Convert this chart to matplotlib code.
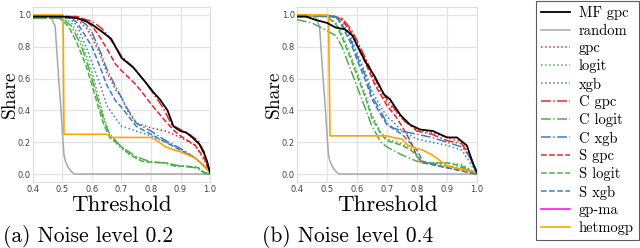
import matplotlib
matplotlib.use("Agg")
import matplotlib.pyplot as plt
from matplotlib.lines import Line2D

# ---------------- data ----------------
captions = ["(a) Noise level 0.2", "(b) Noise level 0.4"]
series_names = ["MF gpc", "random", "gpc", "logit", "xgb", "C gpc", "C logit",
                "C xgb", "S gpc", "S logit", "S xgb", "gp-ma", "hetmogp"]

# Panel (a): noise 0.2  -> (thresholds, share)
a_mf_gpc = ([0.40, 0.50, 0.55, 0.58, 0.60, 0.63, 0.665, 0.70, 0.74, 0.78, 0.81, 0.83, 0.856, 0.876, 0.90, 0.92, 0.94, 0.963, 0.98, 0.99, 1.00],
            [0.99, 0.99, 0.98, 0.96, 0.94, 0.90, 0.85, 0.73, 0.67, 0.58, 0.51, 0.47, 0.40, 0.30, 0.27, 0.26, 0.23, 0.19, 0.13, 0.08, 0.01])
a_random = ([0.40, 0.46, 0.475, 0.487, 0.495, 0.50, 0.505, 0.51, 0.52, 0.53, 0.54, 1.00],
            [0.99, 0.99, 0.93, 0.60, 0.40, 0.25, 0.12, 0.08, 0.04, 0.015, 0.00, 0.00])
a_gpc = ([0.40, 0.52, 0.55, 0.58, 0.60, 0.63, 0.65, 0.68, 0.70, 0.72, 0.75, 0.80, 0.85, 0.90, 0.95, 0.98, 1.00],
         [0.99, 0.99, 0.97, 0.92, 0.86, 0.74, 0.64, 0.53, 0.48, 0.40, 0.32, 0.29, 0.27, 0.23, 0.18, 0.09, 0.01])
a_logit = ([0.40, 0.50, 0.53, 0.56, 0.58, 0.60, 0.62, 0.64, 0.66, 0.70, 0.73, 0.77, 0.80, 0.85, 0.88, 0.92, 0.96, 0.98, 1.00],
           [0.99, 0.99, 0.95, 0.85, 0.75, 0.64, 0.50, 0.36, 0.24, 0.16, 0.12, 0.08, 0.075, 0.07, 0.05, 0.05, 0.04, 0.00, 0.00])
a_xgb = ([0.40, 0.52, 0.55, 0.58, 0.60, 0.63, 0.65, 0.68, 0.70, 0.75, 0.80, 0.85, 0.90, 0.95, 0.98, 1.00],
         [0.99, 0.99, 0.93, 0.80, 0.70, 0.55, 0.43, 0.35, 0.30, 0.27, 0.24, 0.20, 0.16, 0.10, 0.05, 0.01])
a_c_gpc = ([0.40, 0.55, 0.58, 0.60, 0.63, 0.65, 0.68, 0.70, 0.74, 0.78, 0.81, 0.84, 0.87, 0.90, 0.93, 0.96, 0.98, 1.00],
           [0.99, 0.99, 0.97, 0.96, 0.92, 0.88, 0.80, 0.74, 0.67, 0.58, 0.50, 0.42, 0.31, 0.28, 0.25, 0.21, 0.14, 0.01])
a_c_logit = ([0.40, 0.50, 0.53, 0.56, 0.58, 0.60, 0.62, 0.64, 0.66, 0.68, 0.70, 0.75, 0.80, 0.85, 0.90, 0.95, 0.98, 1.00],
             [0.98, 0.98, 0.93, 0.82, 0.72, 0.60, 0.47, 0.34, 0.25, 0.21, 0.17, 0.11, 0.075, 0.07, 0.05, 0.04, 0.01, 0.00])
a_c_xgb = ([0.40, 0.55, 0.58, 0.60, 0.63, 0.65, 0.68, 0.70, 0.72, 0.75, 0.80, 0.85, 0.90, 0.95, 0.98, 1.00],
           [0.99, 0.98, 0.94, 0.89, 0.76, 0.66, 0.55, 0.48, 0.41, 0.32, 0.27, 0.21, 0.16, 0.10, 0.05, 0.01])
a_s_gpc = ([0.40, 0.55, 0.58, 0.60, 0.62, 0.65, 0.68, 0.70, 0.75, 0.78, 0.80, 0.85, 0.88, 0.90, 0.95, 0.98, 1.00],
           [0.99, 0.99, 0.96, 0.93, 0.88, 0.79, 0.69, 0.65, 0.56, 0.49, 0.44, 0.33, 0.27, 0.24, 0.18, 0.10, 0.01])
a_s_logit = ([0.40, 0.49, 0.52, 0.55, 0.58, 0.60, 0.62, 0.64, 0.66, 0.70, 0.73, 0.77, 0.80, 0.85, 0.88, 0.92, 0.96, 0.98, 1.00],
             [0.98, 0.98, 0.93, 0.82, 0.68, 0.56, 0.43, 0.31, 0.23, 0.17, 0.12, 0.08, 0.075, 0.07, 0.05, 0.05, 0.04, 0.01, 0.00])
a_s_xgb = ([0.40, 0.53, 0.55, 0.58, 0.60, 0.63, 0.65, 0.68, 0.70, 0.75, 0.80, 0.85, 0.90, 0.95, 0.98, 1.00],
           [0.99, 0.98, 0.95, 0.86, 0.80, 0.66, 0.56, 0.46, 0.42, 0.30, 0.25, 0.20, 0.15, 0.10, 0.05, 0.01])
a_gp_ma = ([], [])
a_hetmogp = ([0.40, 0.502, 0.505, 0.65, 0.67, 0.80, 0.82, 0.85, 0.88, 0.90, 0.95, 0.97, 1.00],
             [1.00, 1.00, 0.25, 0.25, 0.23, 0.23, 0.21, 0.17, 0.15, 0.14, 0.10, 0.07, 0.01])

# Panel (b): noise 0.4
b_mf_gpc = ([0.40, 0.43, 0.46, 0.50, 0.53, 0.56, 0.585, 0.60, 0.63, 0.66, 0.69, 0.71, 0.745, 0.777, 0.81, 0.854, 0.90, 0.933, 0.966, 0.986, 1.00],
            [0.99, 0.99, 0.97, 0.95, 0.92, 0.91, 0.87, 0.81, 0.70, 0.61, 0.50, 0.47, 0.37, 0.31, 0.28, 0.27, 0.23, 0.23, 0.18, 0.07, 0.01])
b_random = ([0.40, 0.46, 0.475, 0.487, 0.495, 0.50, 0.505, 0.51, 0.52, 0.53, 0.54, 1.00],
            [0.99, 0.99, 0.93, 0.60, 0.40, 0.25, 0.12, 0.08, 0.04, 0.015, 0.00, 0.00])
b_gpc = ([0.40, 0.52, 0.55, 0.58, 0.60, 0.63, 0.66, 0.70, 0.73, 0.76, 0.80, 0.85, 0.90, 0.95, 0.98, 1.00],
         [1.00, 0.99, 0.97, 0.90, 0.83, 0.71, 0.58, 0.45, 0.39, 0.33, 0.28, 0.26, 0.23, 0.20, 0.10, 0.00])
b_logit = ([0.40, 0.50, 0.53, 0.55, 0.58, 0.60, 0.63, 0.65, 0.68, 0.70, 0.75, 0.78, 0.80, 0.82, 0.90, 0.95, 1.00],
           [0.99, 0.99, 0.95, 0.88, 0.74, 0.64, 0.49, 0.37, 0.26, 0.22, 0.19, 0.16, 0.12, 0.07, 0.07, 0.06, 0.00])
b_xgb = ([0.40, 0.53, 0.55, 0.58, 0.60, 0.63, 0.65, 0.68, 0.70, 0.72, 0.75, 0.80, 0.85, 0.90, 0.95, 1.00],
         [1.00, 0.99, 0.95, 0.86, 0.76, 0.63, 0.52, 0.42, 0.36, 0.33, 0.27, 0.22, 0.20, 0.18, 0.15, 0.00])
b_c_gpc = ([0.40, 0.52, 0.55, 0.58, 0.60, 0.63, 0.66, 0.70, 0.73, 0.76, 0.80, 0.85, 0.90, 0.95, 0.98, 1.00],
           [1.00, 0.99, 0.98, 0.91, 0.84, 0.72, 0.60, 0.47, 0.40, 0.33, 0.27, 0.25, 0.21, 0.19, 0.09, 0.00])
b_c_logit = ([0.40, 0.45, 0.48, 0.50, 0.53, 0.55, 0.58, 0.60, 0.63, 0.65, 0.68, 0.70, 0.75, 0.80, 0.85, 0.90, 0.95, 1.00],
             [0.97, 0.95, 0.92, 0.90, 0.87, 0.80, 0.65, 0.55, 0.40, 0.30, 0.20, 0.17, 0.12, 0.08, 0.07, 0.05, 0.04, 0.00])
b_c_xgb = ([0.40, 0.53, 0.55, 0.58, 0.60, 0.63, 0.65, 0.68, 0.70, 0.72, 0.75, 0.80, 0.85, 0.90, 0.95, 0.98, 1.00],
           [1.00, 0.99, 0.94, 0.84, 0.74, 0.61, 0.49, 0.39, 0.32, 0.29, 0.27, 0.25, 0.23, 0.20, 0.17, 0.10, 0.00])
b_s_gpc = ([0.40, 0.52, 0.55, 0.58, 0.60, 0.63, 0.66, 0.70, 0.73, 0.75, 0.78, 0.80, 0.82, 0.85, 0.90, 0.95, 1.00],
           [1.00, 0.99, 0.97, 0.89, 0.81, 0.69, 0.56, 0.43, 0.36, 0.30, 0.20, 0.11, 0.07, 0.06, 0.04, 0.02, 0.00])
b_s_logit = ([0.40, 0.50, 0.53, 0.55, 0.58, 0.60, 0.63, 0.65, 0.68, 0.70, 0.75, 0.78, 0.80, 0.82, 0.90, 0.95, 1.00],
             [0.99, 0.99, 0.94, 0.86, 0.72, 0.62, 0.47, 0.35, 0.25, 0.21, 0.18, 0.15, 0.11, 0.07, 0.07, 0.05, 0.00])
b_s_xgb = ([0.40, 0.53, 0.55, 0.58, 0.60, 0.63, 0.65, 0.68, 0.70, 0.75, 0.78, 0.80, 0.82, 0.85, 0.90, 1.00],
           [1.00, 0.99, 0.93, 0.82, 0.72, 0.58, 0.47, 0.37, 0.31, 0.25, 0.19, 0.15, 0.08, 0.06, 0.04, 0.00])
b_gp_ma = ([], [])
b_hetmogp = ([0.40, 0.505, 0.51, 0.70, 0.72, 0.75, 0.77, 0.80, 0.82, 0.85, 0.88, 0.90, 0.95, 1.00],
             [1.00, 1.00, 0.24, 0.24, 0.23, 0.22, 0.18, 0.16, 0.15, 0.12, 0.08, 0.05, 0.03, 0.01])

panel_a = [a_mf_gpc, a_random, a_gpc, a_logit, a_xgb, a_c_gpc, a_c_logit,
           a_c_xgb, a_s_gpc, a_s_logit, a_s_xgb, a_gp_ma, a_hetmogp]
panel_b = [b_mf_gpc, b_random, b_gpc, b_logit, b_xgb, b_c_gpc, b_c_logit,
           b_c_xgb, b_s_gpc, b_s_logit, b_s_xgb, b_gp_ma, b_hetmogp]

# ---------------- styles ----------------
RED, GREEN, BLUE = "#e8262a", "#4daf4a", "#3a7fc0"
colors = ["black", "#a8a8a8", RED, GREEN, BLUE, RED, GREEN, BLUE, RED, GREEN, BLUE, "magenta", "orange"]
styles = ["-", "-", ":", ":", ":", "-.", "-.", "-.", "--", "--", "--", "-", "-"]
widths = [1.3, 1.1, 1.1, 1.1, 1.1, 1.1, 1.1, 1.1, 1.1, 1.1, 1.1, 1.1, 1.2]
zorders = [5, 3, 3, 3, 3, 3, 3, 3, 3, 3, 3, 3, 4]

SERIF = "cmr10"
plt.rcParams["axes.formatter.use_mathtext"] = True

fig = plt.figure(figsize=(6.4, 2.48), dpi=100)
axes_pos = [[33/640, 66/248, 177/640, 175/248], [297/640, 66/248, 180/640, 175/248]]
caption_x = [88/640, 348/640]

for pos, panel, cap, cx in zip(axes_pos, [panel_a, panel_b], captions, caption_x):
    ax = fig.add_axes(pos)
    ax.set_facecolor("white")
    for (xs, ys), c, ls, lw, z in zip(panel, colors, styles, widths, zorders):
        ax.plot(xs, ys, color=c, ls=ls, lw=lw, zorder=z)
    ax.set_xlim(0.4, 1.0)
    ax.set_ylim(-0.05, 1.05)
    ax.set_xticks([0.4, 0.5, 0.6, 0.7, 0.8, 0.9, 1.0])
    ax.set_yticks([0.0, 0.2, 0.4, 0.6, 0.8, 1.0])
    ax.set_xticklabels(["0.4", "0.5", "0.6", "0.7", "0.8", "0.9", "1.0"])
    ax.set_yticklabels(["0.0", "0.2", "0.4", "0.6", "0.8", "1.0"])
    ax.grid(True, color="#e3e3e3", lw=0.9)
    ax.set_axisbelow(True)
    for sp in ax.spines.values():
        sp.set_color("#dddddd")
        sp.set_linewidth(0.8)
    ax.tick_params(axis="x", length=0, labelsize=6, colors="#444444", pad=2.5)
    ax.tick_params(axis="y", length=0, labelsize=6, colors="#444444", pad=1.5)
    ax.set_xlabel("Threshold", family=SERIF, fontsize=16.5, labelpad=1)
    ax.set_ylabel("Share", family=SERIF, fontsize=14, labelpad=1)
    ax.yaxis.set_label_coords(-14.0 / (pos[2] * 640), 0.5)
    fig.text(cx, 12/248, cap, family=SERIF, fontsize=15.5, ha="center", va="center")

handles = [Line2D([], [], color=c, ls=ls, lw=lw) for c, ls, lw in zip(colors, styles, widths)]
leg = fig.legend(handles, series_names, loc="upper right", bbox_to_anchor=(639/640, 247/248),
                 prop={"family": SERIF, "size": 10.5}, frameon=True, fancybox=False,
                 edgecolor="#333333", handlelength=2.0, labelspacing=0.27,
                 borderpad=0.35, handletextpad=0.6, borderaxespad=0.0)
leg.get_frame().set_linewidth(0.8)

fig.savefig("out.png", dpi=100, facecolor="white")
